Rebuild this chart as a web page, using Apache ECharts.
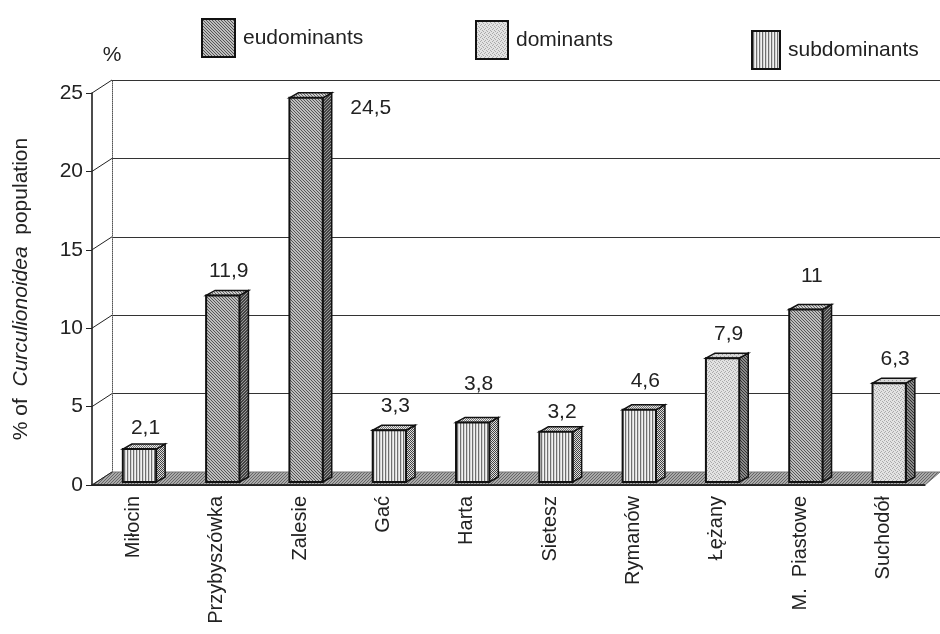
<!DOCTYPE html>
<html>
<head>
<meta charset="utf-8">
<script src="https://cdn.jsdelivr.net/npm/echarts@6/dist/echarts.min.js"></script>
<style>
  html, body { margin: 0; padding: 0; background: #fff; }
  #main { width: 940px; height: 634px; }
</style>
</head>
<body>
<div id="main"></div>
<script>
// data
var categories = ['Miłocin', 'Przybyszówka', 'Zalesie', 'Gać', 'Harta', 'Sietesz', 'Rymanów', 'Łężany', 'M.  Piastowe', 'Suchodół'];
var values = [2.1, 11.9, 24.5, 3.3, 3.8, 3.2, 4.6, 7.9, 11, 6.3];
var valueLabels = ['2,1', '11,9', '24,5', '3,3', '3,8', '3,2', '4,6', '7,9', '11', '6,3'];
var groups = ['subdominants', 'eudominants', 'eudominants', 'subdominants', 'subdominants', 'subdominants', 'subdominants', 'dominants', 'eudominants', 'dominants'];
var groupNames = ['eudominants', 'dominants', 'subdominants'];
var yTicks = [0, 5, 10, 15, 20, 25];

var FONT = '"Liberation Sans", Arial, sans-serif';
var FS = 21;

// small canvas fills to imitate the printed hatching
function pat(w, h, draw) {
    var c = document.createElement('canvas');
    c.width = w;
    c.height = h;
    draw(c.getContext('2d'));
    return { image: c, repeat: 'repeat' };
}
function px(ctx, col, pts) {
    ctx.fillStyle = col;
    pts.forEach(function(p) { ctx.fillRect(p[0], p[1], 1, 1); });
}
var fills = {
    eudominants: {
        front: pat(3, 3, function(ctx) {
            ctx.fillStyle = '#bdbdbd'; ctx.fillRect(0, 0, 3, 3);
            px(ctx, '#555', [[0, 0], [1, 1], [2, 2]]);
        }),
        side: pat(3, 3, function(ctx) {
            ctx.fillStyle = '#444'; ctx.fillRect(0, 0, 3, 3);
            px(ctx, '#999', [[0, 2], [1, 1], [2, 0]]);
        }),
        top: pat(3, 3, function(ctx) {
            ctx.fillStyle = '#d0d0d0'; ctx.fillRect(0, 0, 3, 3);
            px(ctx, '#666', [[0, 0], [1, 1], [2, 2]]);
        })
    },
    dominants: {
        front: pat(4, 4, function(ctx) {
            ctx.fillStyle = '#e2e2e2'; ctx.fillRect(0, 0, 4, 4);
            px(ctx, '#aaa', [[0, 0], [2, 1], [1, 3], [3, 2]]);
        }),
        side: pat(3, 3, function(ctx) {
            ctx.fillStyle = '#8a8a8a'; ctx.fillRect(0, 0, 3, 3);
            px(ctx, '#333', [[0, 0], [1, 1], [2, 2]]);
        }),
        top: pat(4, 4, function(ctx) {
            ctx.fillStyle = '#d6d6d6'; ctx.fillRect(0, 0, 4, 4);
            px(ctx, '#999', [[0, 0], [2, 2]]);
        })
    },
    subdominants: {
        front: pat(3, 1, function(ctx) {
            px(ctx, '#f2f2f2', [[0, 0]]);
            px(ctx, '#707070', [[1, 0]]);
            px(ctx, '#d4d4d4', [[2, 0]]);
        }),
        side: pat(2, 2, function(ctx) {
            ctx.fillStyle = '#ddd'; ctx.fillRect(0, 0, 2, 2);
            px(ctx, '#444', [[0, 0], [1, 1]]);
        }),
        top: pat(2, 2, function(ctx) {
            ctx.fillStyle = '#e8e8e8'; ctx.fillRect(0, 0, 2, 2);
            px(ctx, '#777', [[0, 0], [1, 1]]);
        })
    }
};
var floorFill = pat(3, 3, function(ctx) {
    ctx.fillStyle = '#aaa'; ctx.fillRect(0, 0, 3, 3);
    px(ctx, '#666', [[0, 2], [1, 1], [2, 0]]);
});

// label nudges (printed labels are not all at the same distance)
var labelNudge = { 'Harta': -14, 'M.  Piastowe': -9, 'Rymanów': -5, 'Miłocin': 3, 'Sietesz': 4 };

var DX = 9, DY = -5;      // bar depth
var WX = 20, WY = -13;    // back wall offset

function barRenderer(group) {
    return function(params, api) {
        var i = api.value(0), v = api.value(1);
        var base = api.coord([i, 0]);
        var top = api.coord([i, v]);
        var bw = api.size([1, 0])[0];
        var w = bw * 0.4;
        var x = base[0] - bw / 2 + bw * 0.37;
        var y0 = base[1] - 3, y1 = top[1] - 3;
        var f = fills[group];
        var name = categories[i];
        var lx = x + w / 2 + 6, ly = y1 + DY - 19 + (labelNudge[name] || 0);
        if (v > 20) {
            lx = x + w + 48;
            ly = y1 + 10;
        }
        return {
            type: 'group',
            children: [{
                type: 'polygon',
                shape: { points: [[x + w, y1], [x + w + DX, y1 + DY], [x + w + DX, y0 + DY], [x + w, y0]] },
                style: { fill: f.side, stroke: '#111', lineWidth: 1.5 }
            }, {
                type: 'polygon',
                shape: { points: [[x, y1], [x + DX, y1 + DY], [x + w + DX, y1 + DY], [x + w, y1]] },
                style: { fill: f.top, stroke: '#111', lineWidth: 1.5 }
            }, {
                type: 'rect',
                shape: { x: x, y: y1, width: w, height: y0 - y1 },
                style: { fill: f.front, stroke: '#111', lineWidth: 2 }
            }, {
                type: 'text',
                x: lx,
                y: ly,
                style: {
                    text: valueLabels[i], align: 'center', verticalAlign: 'middle',
                    fontSize: FS, fontFamily: FONT, fill: '#222'
                }
            }]
        };
    };
}

var series = [];
// floor
series.push({
    type: 'custom',
    xAxisIndex: 0, yAxisIndex: 0,
    z: 1,
    silent: true,
    data: [[0, 0]],
    renderItem: function(params, api) {
        var cs = params.coordSys;
        var yb = api.coord([0, 0])[1];
        var xl = cs.x, xr = cs.x + cs.width;
        return {
            type: 'group',
            children: [{
                type: 'polygon',
                shape: { points: [[xl, yb], [xr, yb], [xr + 15, yb + WY], [xl + WX, yb + WY]] },
                style: { fill: floorFill, stroke: '#777', lineWidth: 1 }
            }, {
                type: 'line',
                shape: { x1: xl, y1: yb, x2: xr, y2: yb },
                style: { stroke: '#111', lineWidth: 1.5 }
            }]
        };
    }
});
// tick connectors from front axis to back wall
series.push({
    type: 'custom',
    xAxisIndex: 0, yAxisIndex: 0,
    z: 2,
    silent: true,
    data: yTicks.map(function(t) { return [0, t]; }),
    renderItem: function(params, api) {
        var x = params.coordSys.x;
        var y = api.coord([0, api.value(1)])[1];
        return {
            type: 'line',
            shape: { x1: x, y1: y, x2: x + WX, y2: y + WY },
            style: { stroke: '#222', lineWidth: 1 }
        };
    }
});
groupNames.forEach(function(g) {
    var data = [];
    values.forEach(function(v, i) {
        if (groups[i] === g) data.push([i, v]);
    });
    series.push({
        name: g,
        type: 'custom',
        xAxisIndex: 0, yAxisIndex: 0,
        z: 3,
        itemStyle: { color: fills[g].front, borderColor: '#111', borderWidth: 2 },
        data: data,
        renderItem: barRenderer(g)
    });
});

function legendAt(name, left, top, w) {
    return {
        left: left, top: top,
        itemWidth: w, itemHeight: 38,
        icon: 'rect',
        selectedMode: false,
        data: [{ name: name, itemStyle: { color: fills[name].front, borderColor: '#111', borderWidth: 2 } }],
        textStyle: { fontSize: FS, fontFamily: FONT, color: '#222', padding: [0, 0, 0, 3] }
    };
}

var chart = echarts.init(document.getElementById('main'));
chart.setOption({
    animation: false,
    backgroundColor: '#fff',
    legend: [
        legendAt('eudominants', 196, 13, 33),
        legendAt('dominants', 470, 15, 32),
        legendAt('subdominants', 746, 25, 28)
    ],
    grid: [
        { left: 92, right: 15, top: 93, bottom: 149 },
        { left: 112, right: 0, top: 80, bottom: 162 }
    ],
    xAxis: [{
        type: 'category',
        gridIndex: 0,
        data: categories,
        axisLine: { lineStyle: { color: '#111', width: 1.5 } },
        axisTick: { length: 10, lineStyle: { color: '#222' } },
        axisLabel: { rotate: 90, fontSize: 20, fontFamily: FONT, color: '#222', margin: 11, interval: 0 }
    }, {
        type: 'category',
        gridIndex: 1,
        data: categories,
        show: false
    }],
    yAxis: [{
        type: 'value',
        gridIndex: 0,
        min: 0, max: 25, interval: 5,
        name: '{n|% of  }{i|Curculionoidea}{n|  population}',
        nameLocation: 'middle',
        nameRotate: 90,
        nameGap: 60,
        nameTextStyle: {
            rich: {
                n: { fontSize: FS, fontFamily: FONT, color: '#222' },
                i: { fontSize: FS, fontFamily: FONT, color: '#222', fontStyle: 'italic' }
            }
        },
        axisLine: { show: true, lineStyle: { color: '#111', width: 1.5 } },
        axisTick: { show: true, length: 6, lineStyle: { color: '#222' } },
        axisLabel: { fontSize: FS, fontFamily: FONT, color: '#222', margin: 9 },
        splitLine: { show: false }
    }, {
        type: 'value',
        gridIndex: 1,
        min: 0, max: 25, interval: 5,
        name: '%',
        nameLocation: 'end',
        nameGap: 14,
        nameTextStyle: { fontSize: FS, fontFamily: FONT, color: '#222', align: 'center' },
        axisLine: { show: true, lineStyle: { color: '#555', type: 'dotted', width: 1 } },
        axisTick: { show: false },
        axisLabel: { show: false },
        splitLine: { show: true, lineStyle: { color: '#333', width: 1 } }
    }],
    series: series
});
</script>
</body>
</html>
